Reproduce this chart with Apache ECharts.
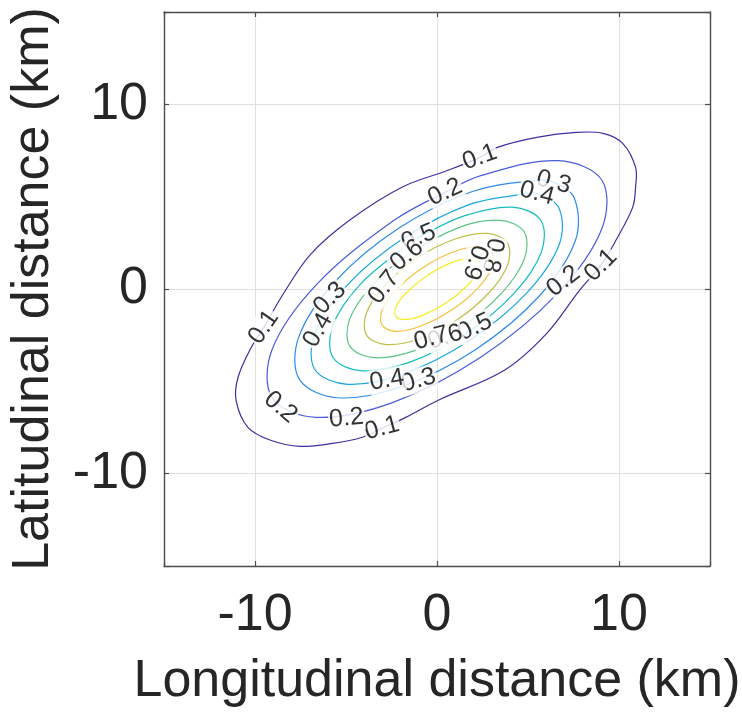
<!DOCTYPE html>
<html><head><meta charset="utf-8">
<script src="https://cdn.jsdelivr.net/npm/echarts@6/dist/echarts.min.js"></script>
<style>html,body{margin:0;padding:0;background:#fff}#c{width:742px;height:717px}</style>
</head><body><div id="c"></div>
<script>
// contour levels and their colours (parula)
const levels = [0.1, 0.2, 0.3, 0.4, 0.5, 0.6, 0.7, 0.8, 0.9];
const levelColors = ['#3f2f9f', '#4a5bdc', '#2f8be8', '#1ba7e0', '#14bcc0', '#5ec487', '#bfbf4a', '#f7c03c', '#f5ec22'];

// closed contour paths (x km, y km)
const contour01 = [[2.35,7.13],[3.32,7.67],[5.48,8.21],[7.66,8.48],[9.12,8.43],[10.20,7.89],[10.91,6.59],[10.91,5.51],[10.75,4.42],[9.83,2.64],[9.00,1.28],[7.83,-0.07],[6.03,-2.40],[3.70,-4.40],[0.07,-6.02],[-1.72,-6.95],[-3.02,-7.54],[-4.10,-8.03],[-5.73,-8.36],[-7.52,-8.52],[-9.14,-8.19],[-10.39,-7.49],[-11.04,-6.03],[-10.93,-4.78],[-10.23,-3.21],[-9.52,-2.08],[-8.50,-0.35],[-6.97,1.85],[-4.81,3.72],[-1.93,5.51],[0.61,6.43]];
const contour02 = [[0.45,5.24],[2.45,6.15],[6.65,6.95],[9.06,5.89],[9.05,3.25],[6.61,-0.25],[2.40,-3.69],[-2.45,-6.15],[-6.65,-6.95],[-9.06,-5.89],[-9.05,-3.25],[-6.61,0.25],[-2.40,3.69]];
const contour03 = [[6.41,5.78],[7.55,4.91],[7.60,2.61],[5.62,-0.38],[2.13,-3.27],[-1.94,-5.28],[-5.48,-5.89],[-7.55,-4.91],[-7.60,-2.61],[-5.62,0.38],[-2.13,3.27],[1.94,5.28],[5.48,5.89]];
const contour04 = [[5.49,5.18],[6.71,4.36],[6.71,2.40],[4.92,-0.22],[1.80,-2.77],[-1.80,-4.58],[-4.91,-5.16],[-6.71,-4.36],[-6.71,-2.40],[-4.92,0.22],[-1.80,2.77],[1.80,4.58],[4.91,5.16]];
const contour05 = [[-1.01,2.80],[1.49,3.96],[4.15,4.43],[5.71,3.71],[5.73,1.99],[4.23,-0.24],[1.58,-2.43],[-1.49,-3.96],[-4.15,-4.43],[-5.71,-3.71],[-5.73,-1.99],[-4.23,0.24],[-1.58,2.43]];
const contour06 = [[-1.66,1.82],[1.23,3.34],[3.47,3.72],[4.78,3.11],[4.81,1.66],[3.55,-0.22],[1.34,-2.06],[-1.23,-3.34],[-3.47,-3.72],[-4.78,-3.11],[-4.81,-1.66],[-3.55,0.22]];
const contour07 = [[-2.87,0.19],[-1.09,1.68],[0.99,2.71],[2.79,3.01],[3.86,2.51],[3.89,1.33],[2.87,-0.19],[1.09,-1.68],[-0.99,-2.71],[-2.79,-3.01],[-3.86,-2.51],[-3.89,-1.33]];
const contour08 = [[3.02,1.96],[3.00,1.11],[2.17,-0.03],[0.76,-1.17],[-0.85,-1.99],[-2.24,-2.29],[-3.02,-1.96],[-3.00,-1.11],[-2.17,0.03],[-0.76,1.17],[0.85,1.99],[2.24,2.29]];
const contour09 = [[2.27,1.47],[2.22,0.89],[1.56,0.08],[0.49,-0.76],[-0.72,-1.40],[-1.72,-1.65],[-2.27,-1.47],[-2.22,-0.89],[-1.56,-0.08],[-0.49,0.76],[0.72,1.40],[1.72,1.65]];
const contours = [contour01, contour02, contour03, contour04, contour05, contour06, contour07, contour08, contour09];

// inline contour labels
const labelText = ['0.1','0.1','0.1','0.1','0.2','0.2','0.2','0.2','0.3','0.3','0.3','0.4','0.4','0.4','0.5','0.5','0.6','0.6','0.7','0.7','0.8','0.9'];
const labelX = [2.35,9.00,-3.02,-9.52,0.45,6.95,-4.97,-8.60,6.41,-5.89,-1.01,5.49,-6.54,-2.75,-1.01,2.08,-1.66,0.45,-2.91,-0.31,3.05,2.08];
const labelY = [7.13,1.28,-7.54,-2.07,5.24,0.42,-7.00,-6.40,5.78,-0.50,-4.94,5.18,-2.24,-4.94,2.80,-2.07,1.82,-2.62,0.09,-2.67,1.82,1.45];
const labelAngle = [20,45,15,55,25,38,5,-40,-15,45,15,-15,60,10,22,25,40,18,52,15,-100,-108];

// axis ticks
const xTicks = [-10, 0, 10];
const yTicks = [-10, 0, 10];

const FONT = "'Liberation Sans', Arial, Helvetica, sans-serif";
const AX = '#262626';
const BOX = '#4d4d4d';
const chart = echarts.init(document.getElementById('c'), null, {renderer: 'canvas'});

function mkAxis(pos, main, name, gap, margin, ticks) {
  return {
    type: 'value', position: pos, min: -15, max: 15, splitNumber: 3,
    axisLine: {show: true, onZero: false, lineStyle: {color: BOX, width: 1.4}},
    axisTick: {show: true, inside: true, length: 5, lineStyle: {color: BOX, width: 1.2}},
    axisLabel: {show: main, margin: margin, fontSize: 52, color: AX, fontFamily: FONT,
      formatter: v => (ticks.indexOf(v) >= 0 ? String(v) : '')},
    splitLine: {show: main, lineStyle: {color: '#e0e0e0', width: 1}},
    name: main ? name : '', nameLocation: 'middle', nameGap: gap,
    nameTextStyle: {fontSize: 52, color: AX, fontFamily: FONT}
  };
}

const series = contours.map((pts, i) => ({
  type: 'custom', name: String(levels[i]), data: pts, z: 2, silent: true,
  encode: {x: 0, y: 1},
  renderItem: function (params, api) {
    if (params.dataIndex !== 0) return null;
    return {
      type: 'polygon',
      shape: {points: pts.map(p => api.coord(p)), smooth: 0.35},
      style: {fill: 'none', stroke: levelColors[i], lineWidth: 1.2}
    };
  }
}));
series.push({
  type: 'scatter', z: 10, symbolSize: 1, itemStyle: {color: 'rgba(0,0,0,0)'}, silent: true,
  data: labelX.map((x, i) => ({name: labelText[i], value: [x, labelY[i]],
    label: {rotate: labelAngle[i]}})),
  label: {show: true, position: 'inside', formatter: '{b}', fontSize: 25, color: '#000',
    fontFamily: FONT, backgroundColor: '#fff', padding: [0, 1]}
});

chart.setOption({
  animation: false,
  backgroundColor: '#fff',
  grid: {left: 161, top: 12, width: 554, height: 554, containLabel: false},
  xAxis: [mkAxis('bottom', true, 'Longitudinal distance (km)', 90, 24, xTicks), mkAxis('top', false, '', 0, 0, xTicks)],
  yAxis: [mkAxis('left', true, 'Latitudinal distance (km)', 104, 16, yTicks), mkAxis('right', false, '', 0, 0, yTicks)],
  series: series
});
</script></body></html>
